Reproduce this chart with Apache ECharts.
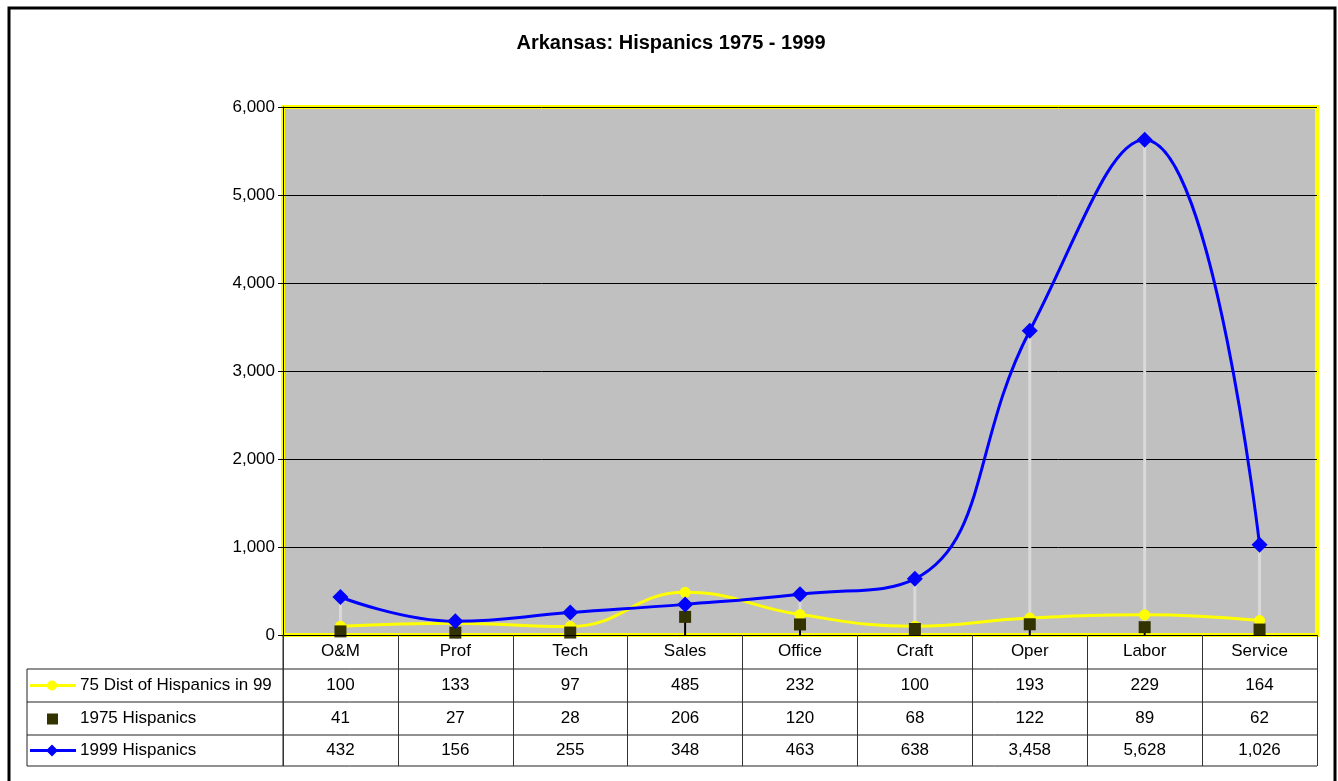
<!DOCTYPE html>
<html>
<head>
<meta charset="utf-8">
<script src="https://cdn.jsdelivr.net/npm/echarts@6/dist/echarts.min.js"></script>
<style>
  html, body { margin: 0; padding: 0; background: #fff; }
  #chart { width: 1338px; height: 781px; }
</style>
</head>
<body>
<div id="chart"></div>
<script>
const categories = ["O&M", "Prof", "Tech", "Sales", "Office", "Craft", "Oper", "Labor", "Service"];
const dist75 = [100, 133, 97, 485, 232, 100, 193, 229, 164];
const hisp1975 = [41, 27, 28, 206, 120, 68, 122, 89, 62];
const hisp1999 = [432, 156, 255, 348, 463, 638, 3458, 5628, 1026];
const seriesNames = ["75 Dist of Hispanics in 99", "1975 Hispanics", "1999 Hispanics"];

const FONT = "Arial, 'Liberation Sans', sans-serif";
const FS = 17;
const fmt = (v) => v.toLocaleString("en-US");

// table geometry (below the plot)
const plotLeft = 283, plotRight = 1317, plotTop = 107, plotBottom = 635;
const rowLines = [635, 669, 702, 735, 766];
const tableLeft = 27;

const chart = echarts.init(document.getElementById("chart"));

const option = {
  animation: false,
  backgroundColor: "#fff",
  textStyle: { fontFamily: FONT },
  grid: {
    left: plotLeft,
    right: 1338 - plotRight,
    top: plotTop,
    bottom: 781 - plotBottom,
    show: true,
    backgroundColor: "#C0C0C0",
    borderColor: "#FFFF00",
    borderWidth: 4,
  },
  xAxis: {
    type: "category",
    data: categories,
    boundaryGap: true,
    axisLine: { show: true, lineStyle: { color: "#000", width: 1 } },
    axisTick: { show: true, length: rowLines[4] - plotBottom, lineStyle: { color: "#333", width: 1 } },
    axisLabel: { color: "#000", fontSize: FS, fontFamily: FONT, margin: 8 },
    z: 5,
  },
  yAxis: {
    type: "value",
    min: 0,
    max: 6000,
    interval: 1000,
    axisLine: { show: true, lineStyle: { color: "#000", width: 1 } },
    axisTick: { show: true, length: 5, lineStyle: { color: "#000" } },
    axisLabel: { color: "#000", fontSize: FS, fontFamily: FONT, margin: 8, formatter: (v) => fmt(v) },
    splitLine: { show: true, lineStyle: { color: "#000", width: 1 } },
  },
  series: [
    {
      // high-low lines and drop lines
      type: "custom",
      z: 1,
      silent: true,
      data: categories.map((c, i) => [i, hisp1975[i], Math.min(dist75[i], hisp1999[i], hisp1975[i]), Math.max(dist75[i], hisp1999[i], hisp1975[i])]),
      encode: { x: 0, y: [1, 2, 3] },
      renderItem: (params, api) => {
        const i = api.value(0);
        const lo = api.coord([i, api.value(2)]);
        const hi = api.coord([i, api.value(3)]);
        const zero = api.coord([i, 0]);
        const sq = api.coord([i, api.value(1)]);
        return {
          type: "group",
          children: [
            { type: "line", shape: { x1: lo[0], y1: lo[1], x2: hi[0], y2: hi[1] }, style: { stroke: "#D9D9D9", lineWidth: 3 } },
            { type: "line", shape: { x1: zero[0], y1: zero[1], x2: sq[0], y2: sq[1] }, style: { stroke: "#000", lineWidth: 2 } },
          ],
        };
      },
    },
    {
      name: seriesNames[0],
      type: "line",
      data: dist75,
      smooth: 0.45,
      symbol: "circle",
      symbolSize: 11,
      itemStyle: { color: "#FFFF00" },
      lineStyle: { color: "#FFFF00", width: 3 },
      z: 3,
    },
    {
      name: seriesNames[1],
      type: "scatter",
      data: hisp1975,
      symbol: "rect",
      symbolSize: 12,
      itemStyle: { color: "#333300", opacity: 1 },
      z: 4,
    },
    {
      name: seriesNames[2],
      type: "line",
      data: hisp1999,
      smooth: 0.45,
      symbol: "diamond",
      symbolSize: 16,
      itemStyle: { color: "#0000FF" },
      lineStyle: { color: "#0000FF", width: 3 },
      z: 5,
    },
  ],
};

chart.setOption(option);

// data table drawn under the plot, positioned from the category axis
const graphics = [];
graphics.push({
  type: "rect",
  shape: { x: 9, y: 8, width: 1326, height: 800 },
  style: { fill: "none", stroke: "#000", lineWidth: 3 },
  silent: true,
});
graphics.push({
  type: "text",
  x: 671,
  y: 43,
  style: { text: "Arkansas: Hispanics 1975 - 1999", font: "bold 20px " + FONT, fill: "#000", textAlign: "center", textVerticalAlign: "middle" },
});
// horizontal rules of the table
for (let r = 1; r < rowLines.length; r++) {
  graphics.push({ type: "line", shape: { x1: tableLeft, y1: rowLines[r], x2: plotRight, y2: rowLines[r] }, style: { stroke: "#222", lineWidth: 1 } });
}
graphics.push({ type: "line", shape: { x1: tableLeft, y1: rowLines[1], x2: tableLeft, y2: rowLines[4] }, style: { stroke: "#222", lineWidth: 1 } });
graphics.push({ type: "line", shape: { x1: plotLeft, y1: rowLines[0], x2: plotLeft, y2: rowLines[4] }, style: { stroke: "#222", lineWidth: 1 } });

const rows = [dist75, hisp1975, hisp1999];
rows.forEach((vals, r) => {
  const cy = (rowLines[r + 1] + rowLines[r + 2]) / 2;
  // legend key
  if (r === 0) {
    graphics.push({ type: "line", shape: { x1: 30, y1: cy, x2: 76, y2: cy }, style: { stroke: "#FFFF00", lineWidth: 3 } });
    graphics.push({ type: "circle", shape: { cx: 52, cy: cy, r: 5 }, style: { fill: "#FFFF00" } });
  } else if (r === 1) {
    graphics.push({ type: "rect", shape: { x: 47, y: cy - 5, width: 11, height: 11 }, style: { fill: "#333300" } });
  } else {
    graphics.push({ type: "line", shape: { x1: 30, y1: cy, x2: 76, y2: cy }, style: { stroke: "#0000FF", lineWidth: 3 } });
    graphics.push({ type: "polygon", shape: { points: [[52, cy - 6], [58, cy], [52, cy + 6], [46, cy]] }, style: { fill: "#0000FF" } });
  }
  graphics.push({
    type: "text",
    x: 80,
    y: cy,
    style: { text: seriesNames[r], font: FS + "px " + FONT, fill: "#000", textAlign: "left", textVerticalAlign: "middle" },
  });
  vals.forEach((v, i) => {
    const px = chart.convertToPixel({ xAxisIndex: 0 }, i);
    graphics.push({
      type: "text",
      x: px,
      y: cy,
      style: { text: fmt(v), font: FS + "px " + FONT, fill: "#000", textAlign: "center", textVerticalAlign: "middle" },
    });
  });
});

chart.setOption({ graphic: graphics });
</script>
</body>
</html>
